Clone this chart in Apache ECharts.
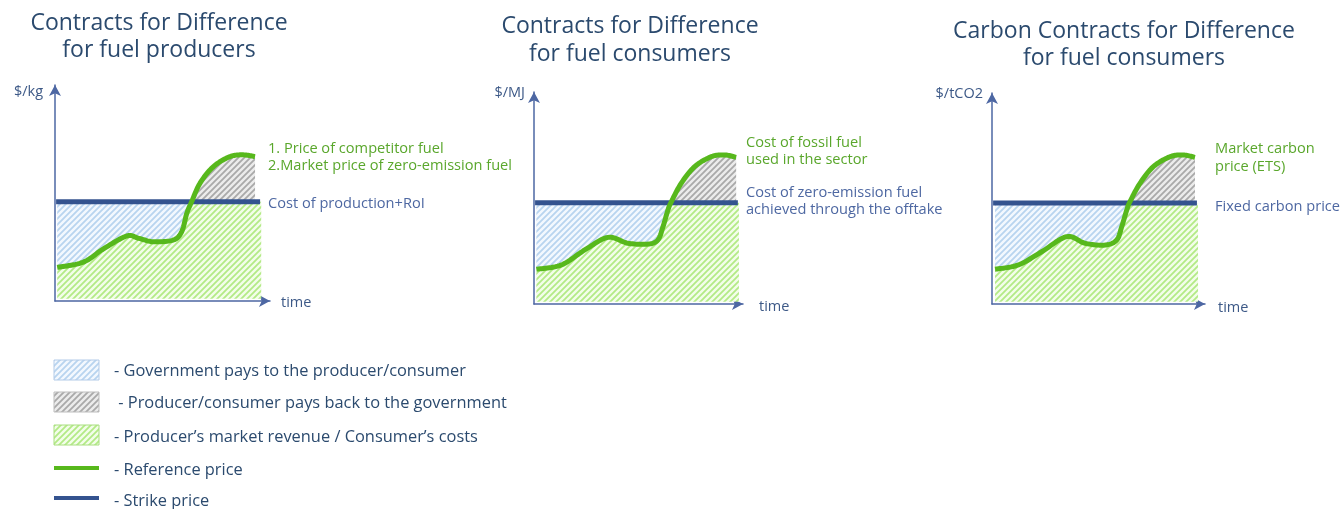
<!DOCTYPE html>
<html>
<head>
<meta charset="utf-8">
<script src="https://cdn.jsdelivr.net/npm/echarts@6/dist/echarts.min.js"></script>
<style>
  html, body { margin: 0; padding: 0; background: #fff; }
  #chart { width: 1343px; height: 509px; }
</style>
</head>
<body>
<div id="chart"></div>
<script>
// reference price curves (time, price) for each panel, arbitrary units 0..100
var producerTime  = [1, 12.9, 22, 32.6, 37.9, 44.7, 53.8, 57.6, 59.9, 62.1, 65.9, 72, 79.5, 85.6, 90.9];
var producerPrice = [15.2, 17.6, 23.6, 29.4, 28.4, 26.8, 27.6, 31.4, 39.7, 44.9, 53.3, 60.8, 65.3, 66.1, 65.3];
var consumerTime  = [1.1, 12.8, 23.7, 34.6, 43.9, 53.3, 57.9, 60.3, 62.6, 64.2, 68.8, 75.1, 82.9, 89.1, 94.5];
var consumerPrice = [16, 18, 24.9, 30.7, 28, 27.6, 29.5, 35.6, 43.3, 47.1, 55.6, 63.3, 67.9, 68.7, 67.6];
var carbonTime    = [1.4, 12.1, 22.8, 34.3, 42.7, 51.8, 57.2, 59.5, 61.8, 63.3, 67.9, 74, 81.7, 87.8, 93.1];
var carbonPrice   = [16.1, 18.1, 24.2, 31.2, 28.1, 27.3, 29.6, 35.8, 43.5, 47.4, 55.9, 63.6, 68.2, 69, 67.9];

// strike price and the time span it covers [start, end]
var producerStrike = 44.9, producerSpan = [0.5, 93.2];
var consumerStrike = 46.7, consumerSpan = [0.5, 95.3];
var carbonStrike   = 46.8, carbonSpan   = [0.5, 94];

var titles = [
  ['Contracts for Difference', 'for fuel producers'],
  ['Contracts for Difference', 'for fuel consumers'],
  ['Carbon Contracts for Difference', 'for fuel consumers']
];
var unitNames = ['$/kg', '$/MJ', '$/tCO2'];
var refLabels = [
  ['1. Price of competitor fuel', '2.Market price of zero-emission fuel'],
  ['Cost of fossil fuel', 'used in the sector'],
  ['Market carbon', 'price (ETS)']
];
var strikeLabels = [
  ['Cost of production+RoI'],
  ['Cost of zero-emission fuel', 'achieved through the offtake'],
  ['Fixed carbon price']
];
var legendTexts = [
  '- Government pays to the producer/consumer',
  ' - Producer/consumer pays back to the government',
  '- Producer\u2019s market revenue / Consumer\u2019s costs',
  '- Reference price',
  '- Strike price'
];

var GREEN = '#57b81c', NAVY = '#34538f', AXIS = '#4d67a3', TITLE = '#2b4a6e';
var FONT = '"Open Sans", Lato, sans-serif';

function hatch(bg, fg) {
  var s = 6, c = document.createElement('canvas');
  c.width = s; c.height = s;
  var g = c.getContext('2d');
  g.fillStyle = bg; g.fillRect(0, 0, s, s);
  g.strokeStyle = fg; g.lineWidth = 1.8;
  g.beginPath();
  g.moveTo(0, s); g.lineTo(s, 0);
  g.moveTo(-s / 2, s / 2); g.lineTo(s / 2, -s / 2);
  g.moveTo(s / 2, s * 1.5); g.lineTo(s * 1.5, s / 2);
  g.stroke();
  return { image: c, repeat: 'repeat' };
}
var blueHatch = hatch('#f3f8fe', '#b8d4ef');
var grayHatch = hatch('#ececec', '#a9a9a9');
var greenHatch = hatch('#f3fdea', '#b3ea86');

// catmull-rom through pixel points
function spline(p, n) {
  var out = [p[0]];
  for (var i = 0; i < p.length - 1; i++) {
    var a = p[i - 1] || p[i], b = p[i], c = p[i + 1], d = p[i + 2] || c;
    for (var k = 1; k <= n; k++) {
      var t = k / n, t2 = t * t, t3 = t2 * t;
      out.push([0, 1].map(function (j) {
        return 0.5 * (2 * b[j] + (-a[j] + c[j]) * t + (2 * a[j] - 5 * b[j] + 4 * c[j] - d[j]) * t2 +
          (-a[j] + 3 * b[j] - 3 * c[j] + d[j]) * t3);
      }));
    }
  }
  return out;
}

function renderPanel(xs, ys, strike, span) {
  return function (params, api) {
    if (params.dataIndex !== 0) return null;
    var pts = spline(xs.map(function (x, i) { return api.coord([x, ys[i]]); }), 14);
    var sy = api.coord([0, strike])[1];
    var base = api.coord([0, 1])[1];
    var right = api.coord([span[1] + 0.5, 0])[0];
    var lower = pts.map(function (p) { return [p[0], Math.max(p[1], sy)]; });
    var upper = pts.map(function (p) { return [p[0], Math.min(p[1], sy)]; });
    var flat = pts.map(function (p) { return [p[0], sy]; }).reverse();
    var first = pts[0];
    return {
      type: 'group',
      children: [
        { type: 'polygon', shape: { points: [[first[0], base]].concat(lower, [[right, sy], [right, base]]) },
          style: { fill: greenHatch } },
        { type: 'polygon', shape: { points: lower.concat(flat) }, style: { fill: blueHatch } },
        { type: 'polygon', shape: { points: upper.concat(flat) }, style: { fill: grayHatch } },
        { type: 'line', shape: { x1: api.coord([span[0], 0])[0], y1: sy, x2: api.coord([span[1], 0])[0], y2: sy },
          style: { stroke: NAVY, lineWidth: 5 } },
        { type: 'polyline', shape: { points: pts }, style: { stroke: GREEN, lineWidth: 5, fill: null, lineJoin: 'round' } }
      ]
    };
  };
}

var panels = [
  { xs: producerTime, ys: producerPrice, strike: producerStrike, span: producerSpan, grid: { left: 55, top: 85, width: 215, height: 216 } },
  { xs: consumerTime, ys: consumerPrice, strike: consumerStrike, span: consumerSpan, grid: { left: 534, top: 92, width: 209, height: 212 } },
  { xs: carbonTime, ys: carbonPrice, strike: carbonStrike, span: carbonSpan, grid: { left: 992, top: 93, width: 213, height: 211 } }
];

function axis(idx) {
  return {
    type: 'value', gridIndex: idx, min: 0, max: 97.7,
    axisLine: { show: true, symbol: ['none', 'arrow'], symbolSize: [9, 11], lineStyle: { color: AXIS, width: 1.5 } },
    axisTick: { show: false }, axisLabel: { show: false }, splitLine: { show: false }
  };
}

// text placement
var titlePos = [[159, 22, 49], [630, 25, 53], [1124, 30, 57]];
var unitPos = [[43, 90], [525, 91], [983, 92]];
var timePos = [[281, 301], [759, 305], [1218, 306]];
var refPos = [[268, 147, 17], [746, 141, 17], [1215, 147, 18]];
var strikePos = [[268, 202], [746, 191], [1215, 205]];

function txt(s, x, y, color, size, align) {
  // open sans sits a little high with middle alignment
  return { type: 'text', x: x, y: y + 1.5, silent: true,
    style: { text: s, fill: color, font: size + 'px ' + FONT, align: align || 'left', verticalAlign: 'middle' } };
}

var graphics = [];
panels.forEach(function (p, i) {
  graphics.push(txt(titles[i][0], titlePos[i][0], titlePos[i][1], TITLE, 23, 'center'));
  graphics.push(txt(titles[i][1], titlePos[i][0], titlePos[i][2], TITLE, 23, 'center'));
  graphics.push(txt(unitNames[i], unitPos[i][0], unitPos[i][1], '#3d5987', 14.5, 'right'));
  graphics.push(txt('time', timePos[i][0], timePos[i][1], '#3d5987', 14.5));
  refLabels[i].forEach(function (s, k) {
    graphics.push(txt(s, refPos[i][0], refPos[i][1] + k * refPos[i][2], '#5aa72c', 14.6));
  });
  strikeLabels[i].forEach(function (s, k) {
    graphics.push(txt(s, strikePos[i][0], strikePos[i][1] + k * 17, '#4e68a2', 14.6));
  });
});

// legend
var swatches = [[blueHatch, '#b3cbe8', 360], [grayHatch, '#bdbdbd', 392], [greenHatch, '#a9de80', 425]];
swatches.forEach(function (s) {
  graphics.push({ type: 'rect', shape: { x: 54, y: s[2], width: 45, height: 20 },
    style: { fill: s[0], stroke: s[1], lineWidth: 1 } });
});
graphics.push({ type: 'line', shape: { x1: 54, y1: 468, x2: 99, y2: 468 }, style: { stroke: GREEN, lineWidth: 4 } });
graphics.push({ type: 'line', shape: { x1: 54, y1: 498, x2: 99, y2: 498 }, style: { stroke: NAVY, lineWidth: 4 } });
var legendY = [370, 402, 436, 469, 500];
legendTexts.forEach(function (s, i) {
  graphics.push(txt(s, 114, legendY[i], TITLE, 16.4));
});

var chart = echarts.init(document.getElementById('chart'));
chart.setOption({
  animation: false,
  backgroundColor: '#ffffff',
  grid: panels.map(function (p) {
    return Object.assign({ outerBoundsMode: 'none', containLabel: false }, p.grid);
  }),
  xAxis: panels.map(function (p, i) { return axis(i); }),
  yAxis: panels.map(function (p, i) { return axis(i); }),
  series: panels.map(function (p, i) {
    return {
      type: 'custom', xAxisIndex: i, yAxisIndex: i,
      renderItem: renderPanel(p.xs, p.ys, p.strike, p.span),
      data: p.xs.map(function (x, k) { return [x, p.ys[k]]; }),
      encode: { x: 0, y: 1 },
      silent: true
    };
  }),
  graphic: graphics
});
</script>
</body>
</html>
